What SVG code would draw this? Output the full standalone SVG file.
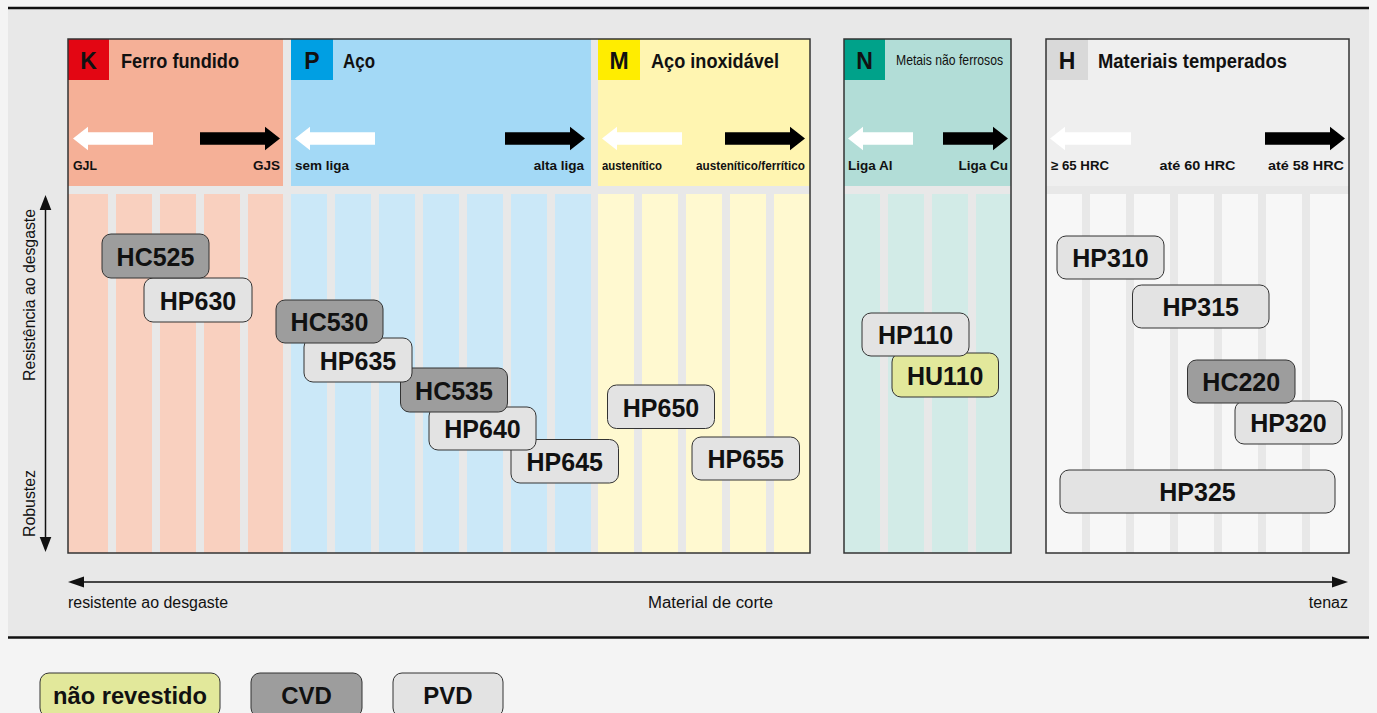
<svg xmlns="http://www.w3.org/2000/svg" width="1377" height="713" viewBox="0 0 1377 713">
<style>
text{font-family:"Liberation Sans",Arial,sans-serif;fill:#111}
.b{font-weight:bold}
.ttl{font-size:19.5px;font-weight:bold}
.lt{font-size:23px;font-weight:bold;text-anchor:middle}
.sub{font-size:13.5px;font-weight:bold}
.ax{font-size:16px}
.nd{font-size:25px;font-weight:bold;text-anchor:middle}
.gap{fill:#e8e8e8}
.kh{fill:#f5b097}.kc{fill:#f9d0bf}
.ph{fill:#a3d9f6}.pc{fill:#cbe8f8}
.mh{fill:#fff5b1}.mc{fill:#fff9d0}
.nh{fill:#b2ddd7}.nc{fill:#d2ebe7}
.hh{fill:#efefef}.hc{fill:#f7f7f7}
.frame{fill:none;stroke:#333;stroke-width:1.5}
.wa{fill:#fff}.ba{fill:#000}
.cvd{fill:#9d9d9d;stroke:#333;stroke-width:1}
.pvd{fill:#e3e3e3;stroke:#333;stroke-width:1}
.unc{fill:#e2e89b;stroke:#333;stroke-width:1}
</style>
<rect x="0" y="0" width="1377" height="713" fill="#f4f4f4"/>
<rect x="8" y="9" width="1361" height="628" fill="#e8e8e8"/>
<line x1="8" y1="8" x2="1369" y2="8" stroke="#111" stroke-width="2.5"/>
<line x1="8" y1="637.5" x2="1369" y2="637.5" stroke="#111" stroke-width="2.5"/>

<g id="panel-KPM">
<rect x="68" y="39" width="742" height="514" class="gap"/>
<rect x="68" y="39" width="215" height="147" class="kh"/>
<rect x="291" y="39" width="300" height="147" class="ph"/>
<rect x="598" y="39" width="212" height="147" class="mh"/>
<g class="kc">
<rect x="68" y="194" width="40" height="359"/><rect x="116" y="194" width="36" height="359"/><rect x="160" y="194" width="36" height="359"/><rect x="204" y="194" width="36" height="359"/><rect x="248" y="194" width="35" height="359"/>
</g>
<g class="pc">
<rect x="291" y="194" width="36" height="359"/><rect x="335" y="194" width="36" height="359"/><rect x="379" y="194" width="36" height="359"/><rect x="423" y="194" width="36" height="359"/><rect x="467" y="194" width="36" height="359"/><rect x="511" y="194" width="36" height="359"/><rect x="555" y="194" width="36" height="359"/>
</g>
<g class="mc">
<rect x="598" y="194" width="36" height="359"/><rect x="642" y="194" width="36" height="359"/><rect x="686" y="194" width="36" height="359"/><rect x="730" y="194" width="36" height="359"/><rect x="774" y="194" width="36" height="359"/>
</g>
<rect x="68" y="39" width="41" height="41" fill="#e30613"/>
<rect x="291" y="39" width="42" height="41" fill="#009fe3"/>
<rect x="598" y="39" width="42" height="41" fill="#ffed00"/>
<text x="88.5" y="68.5" class="lt">K</text>
<text x="312" y="68.5" class="lt">P</text>
<text x="619" y="68.5" class="lt">M</text>
<text x="121" y="67.5" class="ttl" textLength="118" lengthAdjust="spacingAndGlyphs">Ferro fundido</text>
<text x="343" y="67.5" class="ttl" textLength="32" lengthAdjust="spacingAndGlyphs">Aço</text>
<text x="651" y="67.5" class="ttl" textLength="128" lengthAdjust="spacingAndGlyphs">Aço inoxidável</text>
<path class="wa" d="M73,138.5 L88,126.8 L88,132.2 L153,132.2 L153,144.8 L88,144.8 L88,150.2 Z"/>
<path class="ba" d="M280,138.5 L265,126.8 L265,132.2 L200,132.2 L200,144.8 L265,144.8 L265,150.2 Z"/>
<path class="wa" d="M295,138.5 L310,126.8 L310,132.2 L375,132.2 L375,144.8 L310,144.8 L310,150.2 Z"/>
<path class="ba" d="M585,138.5 L570,126.8 L570,132.2 L505,132.2 L505,144.8 L570,144.8 L570,150.2 Z"/>
<path class="wa" d="M602,138.5 L617,126.8 L617,132.2 L682,132.2 L682,144.8 L617,144.8 L617,150.2 Z"/>
<path class="ba" d="M805,138.5 L790,126.8 L790,132.2 L725,132.2 L725,144.8 L790,144.8 L790,150.2 Z"/>
<text x="73" y="170" class="sub" textLength="24" lengthAdjust="spacingAndGlyphs">GJL</text>
<text x="280" y="170" class="sub" text-anchor="end">GJS</text>
<text x="295" y="170" class="sub" textLength="54" lengthAdjust="spacingAndGlyphs">sem liga</text>
<text x="584" y="170" class="sub" text-anchor="end">alta liga</text>
<text x="602" y="170" class="sub" style="font-size:12px" textLength="60" lengthAdjust="spacingAndGlyphs">austenítico</text>
<text x="696" y="170" class="sub" style="font-size:12px" textLength="109" lengthAdjust="spacingAndGlyphs">austenítico/ferrítico</text>
<rect x="68" y="39" width="742" height="514" class="frame"/>
</g>

<g id="panel-N">
<rect x="844" y="39" width="167" height="514" class="gap"/>
<rect x="844" y="39" width="167" height="147" class="nh"/>
<g class="nc">
<rect x="844" y="194" width="36" height="359"/><rect x="888" y="194" width="36" height="359"/><rect x="932" y="194" width="36" height="359"/><rect x="976" y="194" width="35" height="359"/>
</g>
<rect x="844" y="39" width="41" height="41" fill="#00a28a"/>
<text x="864.5" y="68.5" class="lt">N</text>
<text x="896" y="65" style="font-size:14.5px" textLength="107" lengthAdjust="spacingAndGlyphs">Metais não ferrosos</text>
<path class="wa" d="M848,138.5 L863,126.8 L863,132.2 L913,132.2 L913,144.8 L863,144.8 L863,150.2 Z"/>
<path class="ba" d="M1008,138.5 L993,126.8 L993,132.2 L943,132.2 L943,144.8 L993,144.8 L993,150.2 Z"/>
<text x="848" y="170" class="sub">Liga Al</text>
<text x="1008" y="170" class="sub" text-anchor="end">Liga Cu</text>
<rect x="844" y="39" width="167" height="514" class="frame"/>
</g>

<g id="panel-H">
<rect x="1046" y="39" width="303" height="514" class="gap"/>
<rect x="1046" y="39" width="303" height="147" class="hh"/>
<g class="hc">
<rect x="1046" y="194" width="36" height="359"/><rect x="1090" y="194" width="36" height="359"/><rect x="1134" y="194" width="36" height="359"/><rect x="1178" y="194" width="36" height="359"/><rect x="1222" y="194" width="36" height="359"/><rect x="1266" y="194" width="36" height="359"/><rect x="1310" y="194" width="39" height="359"/>
</g>
<rect x="1046" y="39" width="42" height="41" fill="#d9d9d9"/>
<text x="1067" y="68.5" class="lt">H</text>
<text x="1098" y="67.5" class="ttl" textLength="189" lengthAdjust="spacingAndGlyphs">Materiais temperados</text>
<path class="wa" d="M1050,138.5 L1065,126.8 L1065,132.2 L1131,132.2 L1131,144.8 L1065,144.8 L1065,150.2 Z"/>
<path class="ba" d="M1345,138.5 L1330,126.8 L1330,132.2 L1265,132.2 L1265,144.8 L1330,144.8 L1330,150.2 Z"/>
<text x="1051" y="170" class="sub" textLength="58" lengthAdjust="spacingAndGlyphs">≥ 65 HRC</text>
<text x="1197.5" y="170" class="sub" text-anchor="middle" textLength="76" lengthAdjust="spacingAndGlyphs">até 60 HRC</text>
<text x="1344" y="170" class="sub" text-anchor="end" textLength="76" lengthAdjust="spacingAndGlyphs">até 58 HRC</text>
<rect x="1046" y="39" width="303" height="514" class="frame"/>
</g>

<g id="axes">
<line x1="45.5" y1="205" x2="45.5" y2="541" stroke="#111" stroke-width="1.5"/>
<polygon points="45.5,195 39.7,210 51.3,210" fill="#111"/>
<polygon points="45.5,552 39.7,537 51.3,537" fill="#111"/>
<text transform="translate(35,295) rotate(-90)" class="ax" style="font-size:17px" text-anchor="middle" textLength="172" lengthAdjust="spacingAndGlyphs">Resistência ao desgaste</text>
<text transform="translate(35,503.5) rotate(-90)" class="ax" style="font-size:17px" text-anchor="middle" textLength="67" lengthAdjust="spacingAndGlyphs">Robustez</text>
<line x1="80" y1="582" x2="1336" y2="582" stroke="#111" stroke-width="1.5"/>
<polygon points="68,582 84,576.5 84,587.5" fill="#111"/>
<polygon points="1348,582 1332,576.5 1332,587.5" fill="#111"/>
<text x="68" y="608" class="ax" textLength="160" lengthAdjust="spacingAndGlyphs">resistente ao desgaste</text>
<text x="710.5" y="608" class="ax" text-anchor="middle" textLength="125" lengthAdjust="spacingAndGlyphs">Material de corte</text>
<text x="1348" y="608" class="ax" text-anchor="end">tenaz</text>
</g>

<g id="nodes">
<g id="n-HP645"><rect x="511" y="439.5" width="107.5" height="43.5" rx="9" class="pvd"/><text x="564.75" y="471" class="nd">HP645</text></g>
<g id="n-HP640"><rect x="429" y="407" width="107" height="43" rx="9" class="pvd"/><text x="482.5" y="438" class="nd">HP640</text></g>
<g id="n-HC535"><rect x="400.5" y="368" width="107" height="44" rx="9" class="cvd"/><text x="454" y="399.5" class="nd">HC535</text></g>
<g id="n-HP635"><rect x="304" y="338" width="108" height="44" rx="9" class="pvd"/><text x="358" y="369.5" class="nd">HP635</text></g>
<g id="n-HC530"><rect x="276" y="300" width="107" height="43" rx="9" class="cvd"/><text x="329.5" y="331" class="nd">HC530</text></g>
<g id="n-HP630"><rect x="144" y="278" width="108" height="44" rx="9" class="pvd"/><text x="198" y="309.5" class="nd">HP630</text></g>
<g id="n-HC525"><rect x="102" y="234" width="107" height="44" rx="9" class="cvd"/><text x="155.5" y="265.5" class="nd">HC525</text></g>
<g id="n-HP655"><rect x="692" y="437" width="107.5" height="43" rx="9" class="pvd"/><text x="745.75" y="468" class="nd">HP655</text></g>
<g id="n-HP650"><rect x="607.5" y="385" width="107" height="43.5" rx="9" class="pvd"/><text x="661" y="416.5" class="nd">HP650</text></g>
<g id="n-HU110"><rect x="892" y="353" width="106.5" height="44" rx="9" class="unc"/><text x="945.25" y="384.5" class="nd">HU110</text></g>
<g id="n-HP110"><rect x="862" y="313" width="107" height="43" rx="9" class="pvd"/><text x="915.5" y="344" class="nd">HP110</text></g>
<g id="n-HP325"><rect x="1060" y="470" width="275" height="43" rx="9" class="pvd"/><text x="1197.5" y="501" class="nd">HP325</text></g>
<g id="n-HP320"><rect x="1235" y="401" width="107" height="43" rx="9" class="pvd"/><text x="1288.5" y="432" class="nd">HP320</text></g>
<g id="n-HC220"><rect x="1187.5" y="360" width="107.5" height="43" rx="9" class="cvd"/><text x="1241.25" y="391" class="nd">HC220</text></g>
<g id="n-HP315"><rect x="1132.5" y="285" width="136.5" height="43" rx="9" class="pvd"/><text x="1200.75" y="316" class="nd">HP315</text></g>
<g id="n-HP310"><rect x="1057" y="236" width="107" height="43" rx="9" class="pvd"/><text x="1110.5" y="267" class="nd">HP310</text></g>
</g>

<g id="connectors"></g>

<g id="legend">
<g id="lg-uncoated"><rect x="40" y="673" width="180" height="44" rx="9" class="unc"/><text x="130" y="704" class="b" style="font-size:24px" text-anchor="middle" textLength="154" lengthAdjust="spacingAndGlyphs">não revestido</text></g>
<g id="lg-cvd"><rect x="251" y="673" width="111" height="44" rx="9" class="cvd"/><text x="306.5" y="704" class="b" style="font-size:24px" text-anchor="middle">CVD</text></g>
<g id="lg-pvd"><rect x="393" y="673" width="110" height="44" rx="9" class="pvd"/><text x="448" y="704" class="b" style="font-size:24px" text-anchor="middle">PVD</text></g>
</g>
</svg>
